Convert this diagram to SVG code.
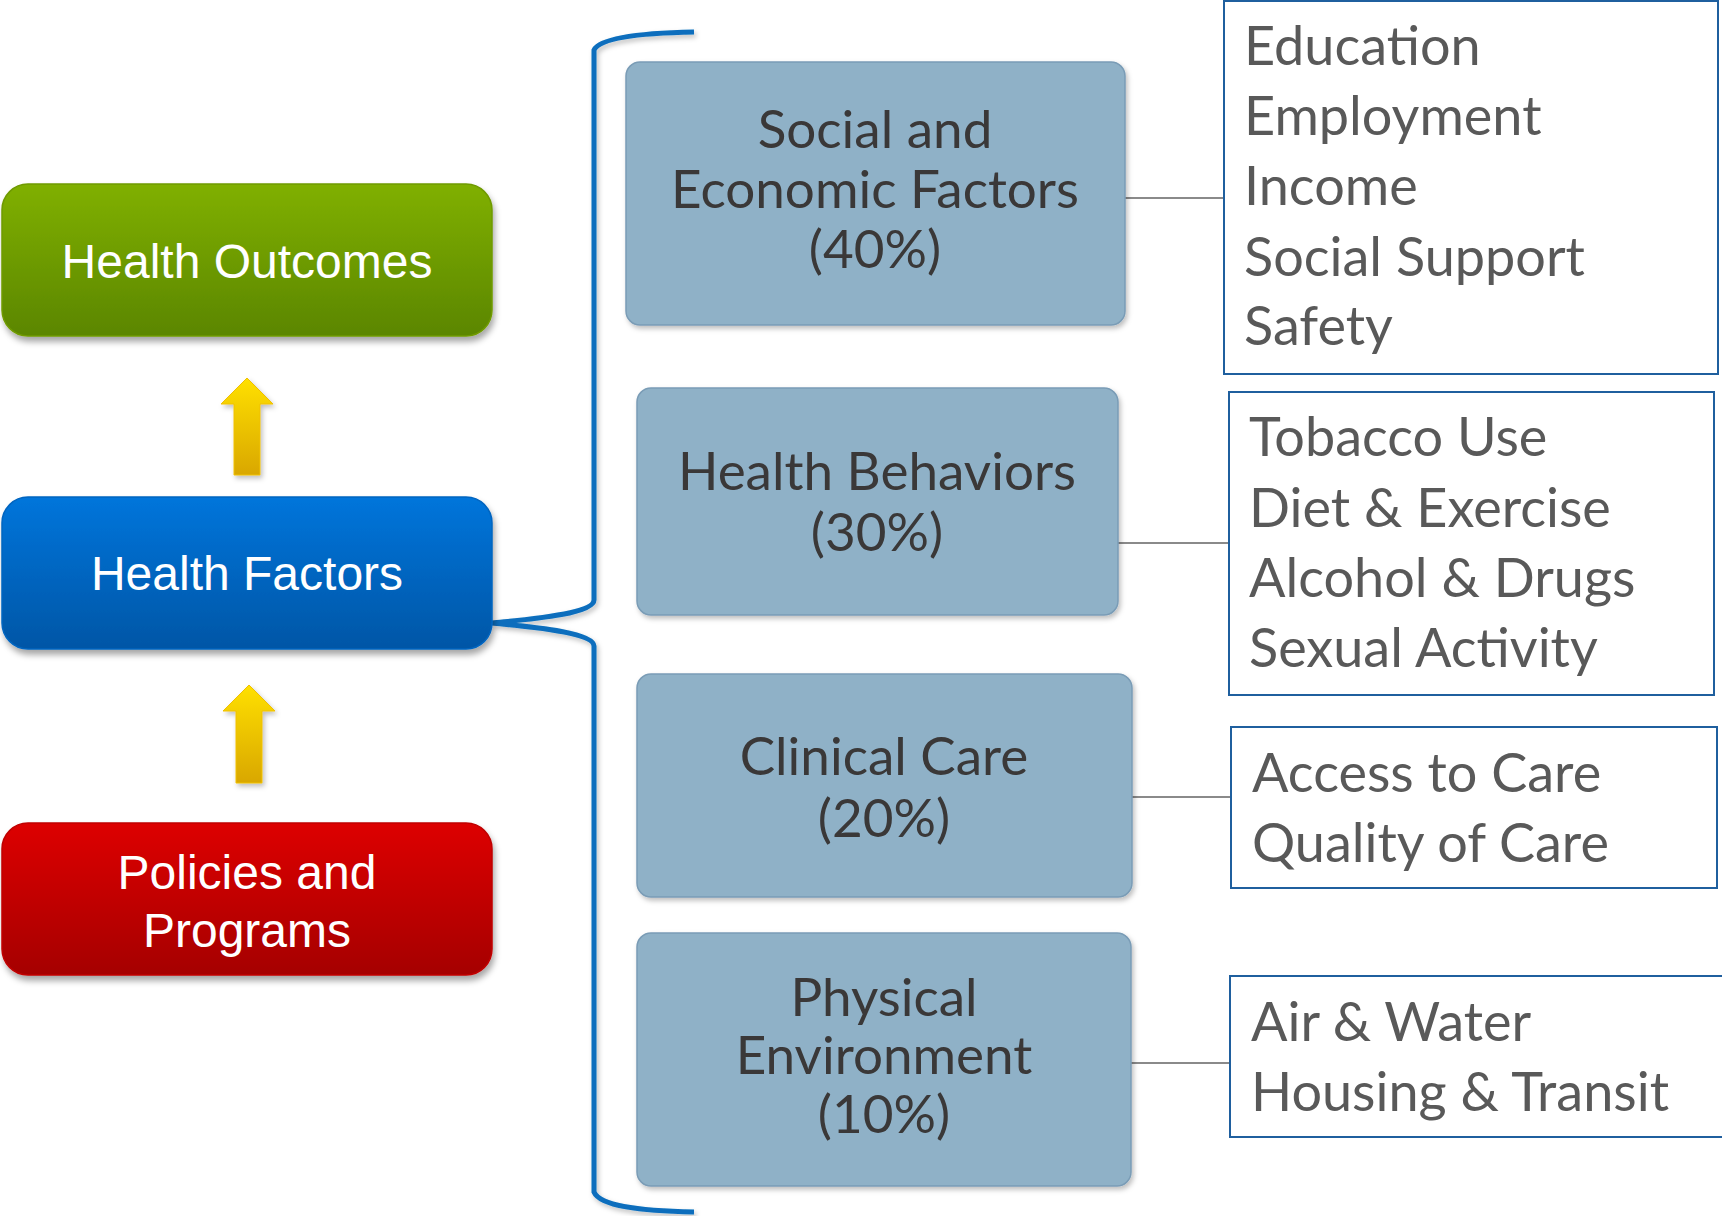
<svg xmlns="http://www.w3.org/2000/svg" width="1722" height="1216" viewBox="0 0 1722 1216">
<style>
.lt{font-family:"Liberation Sans",Arial,sans-serif;font-size:48px;fill:#fff;text-anchor:middle}
.fac{fill:#8fb1c7;stroke:#7a9cb6;stroke-width:1.5}
.ft{font-family:Lato,"Open Sans",sans-serif;font-size:53px;fill:#3a3838;text-anchor:middle}
.det{fill:#fff;stroke:#1f5f9e;stroke-width:2}
.dt{font-family:Lato,"Open Sans",sans-serif;font-size:54px;fill:#595959}
.con{stroke:#8a8a8a;stroke-width:2;fill:none}
</style>
<defs>
<linearGradient id="gG" x1="0" y1="0" x2="0" y2="1"><stop offset="0" stop-color="#80b000"/><stop offset="1" stop-color="#5b8600"/></linearGradient>
<linearGradient id="gB" x1="0" y1="0" x2="0" y2="1"><stop offset="0" stop-color="#0075db"/><stop offset="1" stop-color="#0056a6"/></linearGradient>
<linearGradient id="gR" x1="0" y1="0" x2="0" y2="1"><stop offset="0" stop-color="#dd0000"/><stop offset="1" stop-color="#a50000"/></linearGradient>
<linearGradient id="gY" x1="0" y1="0" x2="0" y2="1"><stop offset="0" stop-color="#ffe000"/><stop offset="1" stop-color="#d9a700"/></linearGradient>
<filter id="sh" x="-10%" y="-10%" width="120%" height="130%"><feDropShadow dx="2" dy="5" stdDeviation="3" flood-color="#000" flood-opacity="0.35"/></filter>
<filter id="sh2" x="-10%" y="-10%" width="120%" height="130%"><feDropShadow dx="2" dy="3" stdDeviation="2.5" flood-color="#000" flood-opacity="0.25"/></filter>
</defs>

<g id="connectors">
<path class="con" d="M1125,198 H1224"/>
<path class="con" d="M1118,543 H1229"/>
<path class="con" d="M1132,797 H1231"/>
<path class="con" d="M1131,1063 H1230"/>
<path id="brace" d="M694,32 C640,33 600,38 594,50 L594,600 C594,615 520,620 492,623 C520,626 594,631 594,646 L594,1192 C600,1206 640,1211 694,1212" fill="none" stroke="#0a6ebd" stroke-width="5" filter="url(#sh2)"/>
</g>

<g id="health-outcomes">
<rect x="2" y="184" width="490" height="152" rx="26" fill="url(#gG)" stroke="#6f9a00" stroke-width="1.5" filter="url(#sh)"/>
<text class="lt" x="247" y="278">Health Outcomes</text>
</g>

<g id="arrow-up-1">
<path d="M247,378 L273,404 L260,404 L260,475 L234,475 L234,404 L221,404 Z" fill="url(#gY)" stroke="#f0c000" stroke-width="1" filter="url(#sh2)"/>
</g>

<g id="health-factors">
<rect x="2" y="497" width="490" height="152" rx="26" fill="url(#gB)" stroke="#0065c0" stroke-width="1.5" filter="url(#sh)"/>
<text class="lt" x="247" y="590">Health Factors</text>
</g>

<g id="arrow-up-2">
<path d="M249,685 L275,711 L262,711 L262,783 L236,783 L236,711 L223,711 Z" fill="url(#gY)" stroke="#f0c000" stroke-width="1" filter="url(#sh2)"/>
</g>

<g id="policies-programs">
<rect x="2" y="823" width="490" height="152" rx="26" fill="url(#gR)" stroke="#c00000" stroke-width="1.5" filter="url(#sh)"/>
<text class="lt" x="247" y="889">Policies and</text>
<text class="lt" x="247" y="947">Programs</text>
</g>

<g id="social-economic">
<rect class="fac" x="626" y="62" width="499" height="263" rx="14" filter="url(#sh2)"/>
<text class="ft" x="875" y="148">Social and</text>
<text class="ft" x="875" y="208">Economic Factors</text>
<text class="ft" x="875" y="268">(40%)</text>
</g>

<g id="health-behaviors">
<rect class="fac" x="637" y="388" width="481" height="227" rx="14" filter="url(#sh2)"/>
<text class="ft" x="877" y="490">Health Behaviors</text>
<text class="ft" x="877" y="551">(30%)</text>
</g>

<g id="clinical-care">
<rect class="fac" x="637" y="674" width="495" height="223" rx="14" filter="url(#sh2)"/>
<text class="ft" x="884" y="775">Clinical Care</text>
<text class="ft" x="884" y="837">(20%)</text>
</g>

<g id="physical-environment">
<rect class="fac" x="637" y="933" width="494" height="253" rx="14" filter="url(#sh2)"/>
<text class="ft" x="884" y="1016">Physical</text>
<text class="ft" x="884" y="1074">Environment</text>
<text class="ft" x="884" y="1133">(10%)</text>
</g>

<g id="details-social">
<rect class="det" x="1224" y="1" width="494" height="373"/>
<text class="dt" x="1244" y="65">Education</text>
<text class="dt" x="1244" y="135">Employment</text>
<text class="dt" x="1244" y="205">Income</text>
<text class="dt" x="1244" y="276">Social Support</text>
<text class="dt" x="1244" y="345">Safety</text>
</g>

<g id="details-behaviors">
<rect class="det" x="1229" y="392" width="485" height="303"/>
<text class="dt" x="1249" y="456">Tobacco Use</text>
<text class="dt" x="1249" y="527">Diet &amp; Exercise</text>
<text class="dt" x="1249" y="597">Alcohol &amp; Drugs</text>
<text class="dt" x="1249" y="667">Sexual Activity</text>
</g>

<g id="details-clinical">
<rect class="det" x="1231" y="727" width="486" height="161"/>
<text class="dt" x="1252" y="792">Access to Care</text>
<text class="dt" x="1252" y="862">Quality of Care</text>
</g>

<g id="details-physical">
<rect class="det" x="1230" y="976" width="500" height="161"/>
<text class="dt" x="1251" y="1041">Air &amp; Water</text>
<text class="dt" x="1251" y="1111">Housing &amp; Transit</text>
</g>
</svg>
